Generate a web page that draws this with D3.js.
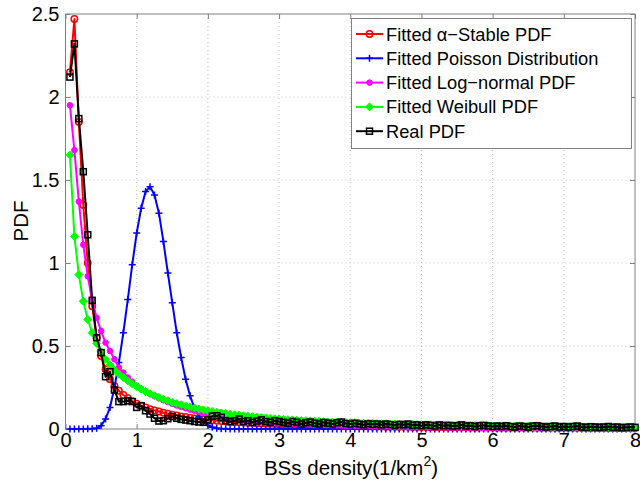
<!DOCTYPE html>
<html>
<head>
<meta charset="utf-8">
<script src="https://cdn.jsdelivr.net/npm/d3@7"></script>
<style>
  body { margin: 0; background: #fff; }
  svg { font-family: "Liberation Sans", Arial, sans-serif; }
</style>
</head>
<body>
<svg width="640" height="488"></svg>
<script>
// sample grid: bin centres every 1/16 from 0.0625 to 8
const xs = d3.range(1, 129).map(k => k / 16);

const stableVals = [
  2.15, 2.47, 1.85, 1.35, 1.00, 0.74, 0.55, 0.44, 0.36, 0.30, 0.26, 0.23, 0.205, 0.185, 0.168, 0.153,
  0.14, 0.13, 0.12, 0.112, 0.105, 0.098, 0.092, 0.086, 0.081, 0.076, 0.072, 0.068, 0.064, 0.061, 0.058, 0.055,
  0.052, 0.050, 0.048, 0.046, 0.044, 0.042, 0.040, 0.039, 0.037, 0.036, 0.034, 0.033, 0.032, 0.031, 0.030, 0.029,
  0.028, 0.027, 0.026, 0.025, 0.025, 0.024, 0.023, 0.022, 0.022, 0.021, 0.020, 0.020, 0.019, 0.019, 0.018, 0.018,
  0.017, 0.017, 0.016, 0.016, 0.015, 0.015, 0.015, 0.014, 0.014, 0.014, 0.013, 0.013, 0.013, 0.012, 0.012, 0.012,
  0.012, 0.011, 0.011, 0.011, 0.011, 0.010, 0.010, 0.010, 0.010, 0.010, 0.009, 0.009, 0.009, 0.009, 0.009, 0.009,
  0.008, 0.008, 0.008, 0.008, 0.008, 0.008, 0.008, 0.008, 0.008, 0.008, 0.007, 0.007, 0.007, 0.007, 0.007, 0.007,
  0.007, 0.007, 0.007, 0.007, 0.007, 0.006, 0.006, 0.006, 0.006, 0.006, 0.006, 0.006, 0.006, 0.006, 0.006, 0.006
];

const poissonVals = [
  0, 0, 0, 0, 0.001, 0.002, 0.004, 0.02, 0.06, 0.13, 0.25, 0.40, 0.58, 0.78, 0.99, 1.18,
  1.33, 1.43, 1.46, 1.41, 1.30, 1.13, 0.94, 0.76, 0.58, 0.43, 0.30, 0.20, 0.125, 0.075, 0.042, 0.022,
  0.011, 0.005, 0.002, 0.001, 0, 0, 0, 0, 0, 0, 0, 0, 0, 0, 0, 0,
  0, 0, 0, 0, 0, 0, 0, 0, 0, 0, 0, 0, 0, 0, 0, 0,
  0, 0, 0, 0, 0, 0, 0, 0, 0, 0, 0, 0, 0, 0, 0, 0,
  0, 0, 0, 0, 0, 0, 0, 0, 0, 0, 0, 0, 0, 0, 0, 0,
  0, 0, 0, 0, 0, 0, 0, 0, 0, 0, 0, 0, 0, 0, 0, 0,
  0, 0, 0, 0, 0, 0, 0, 0, 0, 0, 0, 0, 0, 0, 0, 0
];

const lognormVals = [
  1.95, 1.68, 1.37, 1.11, 0.92, 0.78, 0.67, 0.59, 0.52, 0.47, 0.42, 0.37, 0.34, 0.31, 0.285, 0.26,
  0.243, 0.227, 0.212, 0.198, 0.185, 0.173, 0.162, 0.152, 0.142, 0.133, 0.125, 0.117, 0.110, 0.103, 0.097, 0.091,
  0.085, 0.080, 0.075, 0.071, 0.067, 0.063, 0.060, 0.057, 0.054, 0.051, 0.049, 0.046, 0.044, 0.042, 0.040, 0.038,
  0.036, 0.035, 0.033, 0.032, 0.030, 0.029, 0.028, 0.027, 0.026, 0.025, 0.024, 0.023, 0.022, 0.021, 0.020, 0.020,
  0.019, 0.018, 0.018, 0.017, 0.016, 0.016, 0.015, 0.015, 0.014, 0.014, 0.013, 0.013, 0.012, 0.012, 0.012, 0.011,
  0.011, 0.011, 0.010, 0.010, 0.010, 0.009, 0.009, 0.009, 0.009, 0.008, 0.008, 0.008, 0.008, 0.007, 0.007, 0.007,
  0.007, 0.007, 0.006, 0.006, 0.006, 0.006, 0.006, 0.006, 0.005, 0.005, 0.005, 0.005, 0.005, 0.005, 0.005, 0.005,
  0.005, 0.005, 0.004, 0.004, 0.004, 0.004, 0.004, 0.004, 0.004, 0.004, 0.004, 0.004, 0.004, 0.004, 0.004, 0.004
];

const weibullVals = [
  1.65, 1.16, 0.93, 0.77, 0.66, 0.58, 0.515, 0.465, 0.42, 0.385, 0.355, 0.33, 0.31, 0.29, 0.272, 0.256,
  0.24, 0.226, 0.213, 0.201, 0.19, 0.18, 0.17, 0.161, 0.153, 0.146, 0.139, 0.132, 0.126, 0.12, 0.115, 0.11,
  0.105, 0.101, 0.097, 0.093, 0.089, 0.086, 0.083, 0.080, 0.077, 0.074, 0.071, 0.069, 0.067, 0.064, 0.062, 0.060,
  0.058, 0.056, 0.055, 0.053, 0.051, 0.050, 0.048, 0.047, 0.046, 0.044, 0.043, 0.042, 0.041, 0.040, 0.039, 0.038,
  0.037, 0.036, 0.035, 0.034, 0.033, 0.032, 0.032, 0.031, 0.030, 0.029, 0.029, 0.028, 0.027, 0.027, 0.026, 0.026,
  0.025, 0.025, 0.024, 0.024, 0.023, 0.023, 0.022, 0.022, 0.021, 0.021, 0.020, 0.020, 0.020, 0.019, 0.019, 0.018,
  0.018, 0.018, 0.017, 0.017, 0.017, 0.016, 0.016, 0.016, 0.015, 0.015, 0.015, 0.015, 0.014, 0.014, 0.014, 0.013,
  0.013, 0.013, 0.013, 0.013, 0.012, 0.012, 0.012, 0.012, 0.011, 0.011, 0.011, 0.011, 0.011, 0.010, 0.010, 0.010
];

const realVals = [
  2.12, 2.32, 1.87, 1.55, 1.17, 0.775, 0.55, 0.46, 0.315, 0.345, 0.235, 0.165, 0.165, 0.17, 0.165, 0.13,
  0.14, 0.11, 0.09, 0.065, 0.048, 0.05, 0.062, 0.075, 0.065, 0.058, 0.054, 0.05, 0.045, 0.042, 0.04, 0.055,
  0.078, 0.08, 0.07, 0.05, 0.044, 0.05, 0.06, 0.045, 0.05, 0.04, 0.048, 0.055, 0.045, 0.04, 0.05, 0.045,
  0.04, 0.035, 0.045, 0.04, 0.03, 0.038, 0.042, 0.035, 0.03, 0.04, 0.035, 0.03, 0.038, 0.042, 0.033, 0.03,
  0.035, 0.03, 0.025, 0.032, 0.028, 0.03, 0.025, 0.03, 0.027, 0.022, 0.028, 0.025, 0.03, 0.022, 0.025, 0.02,
  0.025, 0.022, 0.018, 0.025, 0.02, 0.022, 0.018, 0.02, 0.025, 0.018, 0.02, 0.015, 0.02, 0.022, 0.018, 0.015,
  0.018, 0.015, 0.02, 0.015, 0.012, 0.018, 0.015, 0.012, 0.018, 0.02, 0.015, 0.012, 0.015, 0.018, 0.012, 0.015,
  0.012, 0.015, 0.018, 0.012, 0.01, 0.014, 0.012, 0.01, 0.012, 0.015, 0.01, 0.012, 0.008, 0.01, 0.012, 0.01
];

const xTicks = [0, 1, 2, 3, 4, 5, 6, 7, 8];
const yTicks = [0, 0.5, 1, 1.5, 2, 2.5];

const seriesNames = [
  "Fitted \u03b1\u2212Stable PDF",
  "Fitted Poisson Distribution",
  "Fitted Log\u2212normal PDF",
  "Fitted Weibull PDF",
  "Real PDF"
];
const seriesColors = ["#ff0000", "#0000ff", "#ff00ff", "#00ff00", "#000000"];
const seriesMarkers = ["circle", "plus", "dot", "diamond", "square"];
const seriesValues = [stableVals, poissonVals, lognormVals, weibullVals, realVals];

const width = 640;
const height = 488;
const plotLeft = 65.5, plotRight = 635, plotTop = 14, plotBottom = 429;

const svg = d3.select("svg");

const xScale = d3.scaleLinear().domain([0, 8]).range([plotLeft, plotRight]);
const yScale = d3.scaleLinear().domain([0, 2.5]).range([plotBottom, plotTop]);

// grid
const grid = svg.append("g").attr("stroke", "#c4c4c4").attr("stroke-width", 1)
  .attr("stroke-dasharray", "1,3");
grid.selectAll(".gx").data(xTicks.slice(1, -1)).enter().append("line")
  .attr("x1", d => xScale(d)).attr("x2", d => xScale(d))
  .attr("y1", plotTop).attr("y2", plotBottom);
grid.selectAll(".gy").data(yTicks.slice(1, -1)).enter().append("line")
  .attr("x1", plotLeft).attr("x2", plotRight)
  .attr("y1", d => yScale(d)).attr("y2", d => yScale(d));

// axes with inward ticks
const xAxis = d3.axisBottom(xScale).tickValues(xTicks).tickFormat(d3.format("d"))
  .tickSize(-5).tickPadding(4);
const yAxis = d3.axisLeft(yScale).tickValues(yTicks).tickFormat(d => d)
  .tickSize(-5).tickPadding(6);

function styleAxis(g) {
  g.select(".domain").remove();
  g.selectAll(".tick line").attr("stroke", "#808080");
  g.selectAll(".tick text").attr("fill", "#000").style("font-size", "20px")
    .style("font-family", "Liberation Sans, Arial, sans-serif");
}

svg.append("g").attr("transform", `translate(0, ${plotBottom})`).call(xAxis).call(styleAxis);
svg.append("g").attr("transform", `translate(${plotLeft}, 0)`).call(yAxis).call(styleAxis);
svg.append("g").attr("transform", `translate(0, ${plotTop})`)
  .call(d3.axisTop(xScale).tickValues(xTicks).tickSize(-5).tickFormat(""))
  .call(styleAxis);
svg.append("g").attr("transform", `translate(${plotRight}, 0)`)
  .call(d3.axisRight(yScale).tickValues(yTicks).tickSize(-5).tickFormat(""))
  .call(styleAxis);

// box
svg.append("rect")
  .attr("x", plotLeft).attr("y", plotTop)
  .attr("width", plotRight - plotLeft).attr("height", plotBottom - plotTop)
  .attr("fill", "none").attr("stroke", "#808080").attr("stroke-width", 1);

function drawMarker(g, type, color, cx, cy) {
  if (type === "circle") {
    g.append("circle").attr("cx", cx).attr("cy", cy).attr("r", 3.2)
      .attr("fill", "none").attr("stroke", color).attr("stroke-width", 1.5);
  } else if (type === "dot") {
    g.append("circle").attr("cx", cx).attr("cy", cy).attr("r", 2.8)
      .attr("fill", color).attr("stroke", color).attr("stroke-width", 1);
  } else if (type === "plus") {
    g.append("path")
      .attr("d", `M${cx - 3.5},${cy}H${cx + 3.5}M${cx},${cy - 3.5}V${cy + 3.5}`)
      .attr("stroke", color).attr("stroke-width", 1.5);
  } else if (type === "diamond") {
    g.append("path")
      .attr("d", `M${cx},${cy - 4}L${cx + 4},${cy}L${cx},${cy + 4}L${cx - 4},${cy}Z`)
      .attr("fill", color).attr("stroke", color).attr("stroke-width", 1);
  } else if (type === "square") {
    g.append("rect").attr("x", cx - 3).attr("y", cy - 3).attr("width", 6).attr("height", 6)
      .attr("fill", "none").attr("stroke", color).attr("stroke-width", 1.5);
  }
}

const line = d3.line().x(d => xScale(d.x)).y(d => yScale(d.y));

seriesValues.forEach((vals, i) => {
  const data = xs.map((x, j) => ({ x: x, y: vals[j] }));
  const g = svg.append("g");
  g.append("path").datum(data).attr("d", line)
    .attr("fill", "none").attr("stroke", seriesColors[i]).attr("stroke-width", 2)
    .attr("stroke-linejoin", "round");
  data.forEach(d => drawMarker(g, seriesMarkers[i], seriesColors[i], xScale(d.x), yScale(d.y)));
});

// legend
const legend = svg.append("g");
legend.append("rect")
  .attr("x", 351.5).attr("y", 18.5).attr("width", 280).attr("height", 130)
  .attr("fill", "#fff").attr("stroke", "#808080").attr("stroke-width", 1);
seriesNames.forEach((name, i) => {
  const cy = 34 + i * 24.3;
  legend.append("line").attr("x1", 356).attr("x2", 383).attr("y1", cy).attr("y2", cy)
    .attr("stroke", seriesColors[i]).attr("stroke-width", 2);
  drawMarker(legend, seriesMarkers[i], seriesColors[i], 369.5, cy);
  legend.append("text").attr("x", 386).attr("y", cy + 6.5)
    .style("font-size", "18.3px").attr("fill", "#000").text(name);
});

// axis labels
svg.append("text")
  .attr("transform", "rotate(-90)")
  .attr("x", -221).attr("y", 28)
  .attr("text-anchor", "middle")
  .style("font-size", "20.5px")
  .text("PDF");

const xl = svg.append("text")
  .attr("x", 351).attr("y", 475)
  .attr("text-anchor", "middle")
  .style("font-size", "20.5px");
xl.append("tspan").text("BSs density(1/km");
xl.append("tspan").attr("dy", -9).style("font-size", "14px").text("2");
xl.append("tspan").attr("dy", 9).text(")");
</script>
</body>
</html>
